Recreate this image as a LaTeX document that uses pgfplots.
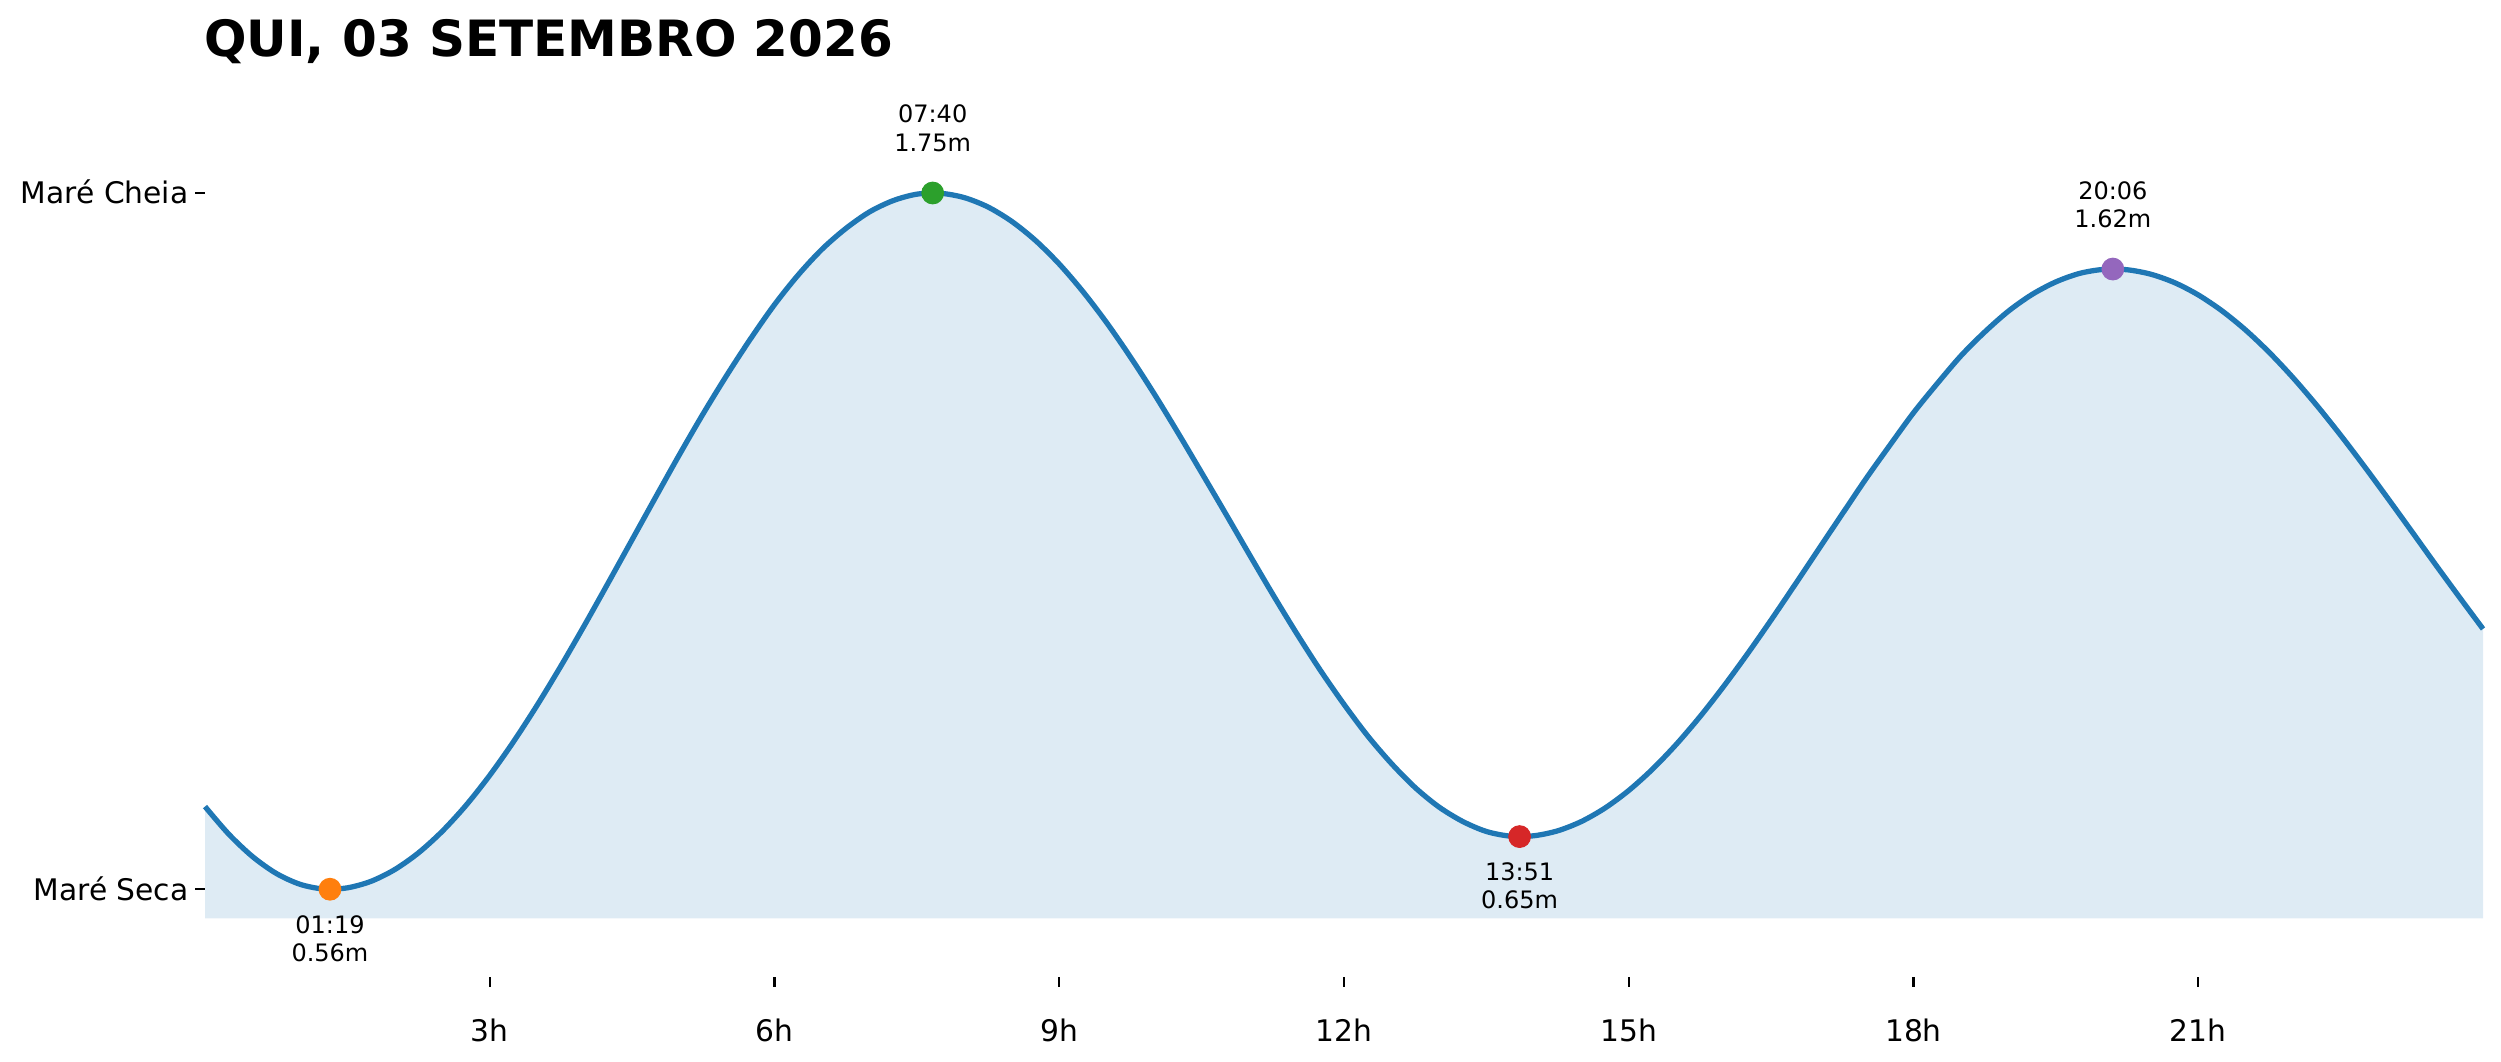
\documentclass[border=0pt]{standalone}
\usepackage{fontspec}
\setmainfont{DejaVu Sans}
\usepackage{pgfplots}
\pgfplotsset{compat=1.18}
\usepackage{pgfplotstable}
\usepgfplotslibrary{fillbetween}
\definecolor{tabblue}{HTML}{1F77B4}
\definecolor{taborange}{HTML}{FF7F0E}
\definecolor{tabgreen}{HTML}{2CA02C}
\definecolor{tabred}{HTML}{D62728}
\definecolor{tabpurple}{HTML}{9467BD}
\pgfplotstableread{
t v
0 0.7013
0.25 0.6542
0.5 0.6159
0.75 0.5871
1.0 0.5685
1.25 0.5604
1.5 0.5624
1.75 0.5736
2.0 0.5937
2.25 0.6223
2.5 0.6591
2.75 0.7034
3.0 0.7547
3.25 0.8121
3.5 0.8747
3.75 0.9416
4.0 1.0118
4.25 1.0842
4.5 1.1575
4.75 1.2308
5.0 1.3033
5.25 1.3732
5.5 1.4392
5.75 1.5014
6.0 1.5592
6.25 1.6100
6.5 1.6538
6.75 1.6892
7.0 1.7176
7.25 1.7370
7.5 1.7480
7.75 1.7495
8.0 1.7421
8.25 1.7260
8.5 1.7014
8.75 1.6688
9.0 1.6286
9.25 1.5814
9.5 1.5282
9.75 1.4696
10.0 1.4068
10.25 1.3404
10.5 1.2719
10.75 1.2028
11.0 1.1329
11.25 1.0639
11.5 0.9975
11.75 0.9344
12.0 0.8760
12.25 0.8220
12.5 0.7748
12.75 0.7337
13.0 0.7006
13.25 0.6759
13.5 0.6587
13.75 0.6508
14.0 0.6514
14.25 0.6598
14.5 0.6757
14.75 0.6988
15.0 0.7288
15.25 0.7652
15.5 0.8075
15.75 0.8549
16.0 0.9068
16.25 0.9622
16.5 1.0203
16.75 1.0803
17.0 1.1411
17.25 1.2016
17.5 1.2618
17.75 1.3187
18.0 1.3744
18.25 1.4243
18.5 1.4718
18.75 1.5124
19.0 1.5481
19.25 1.5767
19.5 1.5981
19.75 1.6126
20.0 1.6194
20.25 1.6188
20.5 1.6112
20.75 1.5968
21.0 1.5758
21.25 1.5486
21.5 1.5156
21.75 1.4772
22.0 1.4340
22.25 1.3867
22.5 1.3360
22.75 1.2827
23.0 1.2275
23.25 1.1714
23.5 1.1149
23.75 1.0595
24.0 1.0049
}\tide
\begin{document}
\begin{tikzpicture}
\begin{axis}[
  scale only axis,
  width=820.08bp, height=324.36bp,
  xmin=0, xmax=24, ymin=0.41, ymax=1.95,
  clip=false,
  axis line style={draw=none},
  tick align=outside,
  xtick pos=left, ytick pos=left,
  major tick length=3.5bp,
  tick style={black, line width=0.8bp},
  xtick={3,6,9,12,15,18,21},
  xticklabels={3h,6h,9h,12h,15h,18h,21h},
  ytick={0.56,1.75},
  yticklabels={Maré Seca,Maré Cheia},
  /pgf/number format/assume math mode=true,
  xticklabel style={font=\fontsize{10.7bp}{12.8bp}\selectfont, inner sep=0pt, anchor=base},
  yticklabel style={font=\fontsize{10.7bp}{12.8bp}\selectfont, inner sep=0pt, anchor=base east},
  every x tick label/.append style={yshift=-19.66bp},
  every y tick label/.append style={xshift=-2.24bp, yshift=-3.9bp},
]
\addplot[draw=none, name path=tidepath, smooth] table[x=t, y=v] {\tide};
\addplot[draw=none, name path=basepath] coordinates {(0,0.51) (24,0.51)};
\addplot[fill=tabblue, fill opacity=0.15, draw=none] fill between[of=tidepath and basepath];
\addplot[tabblue, line width=1.9bp, smooth] table[x=t, y=v] {\tide};
\addplot[only marks, mark=*, mark size=3.9bp, color=taborange] coordinates {(1.3167,0.56)};
\addplot[only marks, mark=*, mark size=3.9bp, color=tabgreen] coordinates {(7.6667,1.75)};
\addplot[only marks, mark=*, mark size=3.9bp, color=tabred] coordinates {(13.85,0.65)};
\addplot[only marks, mark=*, mark size=3.9bp, color=tabpurple] coordinates {(20.1,1.62)};
\begin{scope}[every node/.style={inner sep=0pt, anchor=base, font=\fontsize{8.64bp}{10.08bp}\selectfont}]
\node[yshift=-15.9bp] at (axis cs:1.3167,0.56) {01:19};
\node[yshift=-26.0bp] at (axis cs:1.3167,0.56) {0.56m};
\node[yshift=25.2bp] at (axis cs:7.6667,1.75) {07:40};
\node[yshift=15.1bp] at (axis cs:7.6667,1.75) {1.75m};
\node[yshift=-15.9bp] at (axis cs:13.85,0.65) {13:51};
\node[yshift=-26.0bp] at (axis cs:13.85,0.65) {0.65m};
\node[yshift=25.2bp] at (axis cs:20.1,1.62) {20:06};
\node[yshift=15.1bp] at (axis cs:20.1,1.62) {1.62m};
\end{scope}
\end{axis}
\node[anchor=base west, inner sep=0pt, font=\fontsize{18bp}{21bp}\selectfont\bfseries] at (-0.5bp,331.2bp) {QUI, 03 SETEMBRO 2026};
\pgfresetboundingbox
\path (-73.8bp,-30.6bp) rectangle (826.56bp,351.72bp);
\end{tikzpicture}
\end{document}
